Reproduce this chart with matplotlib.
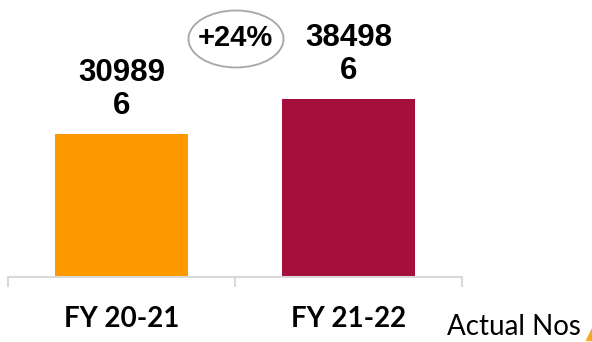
import matplotlib.pyplot as plt
from matplotlib.patches import Ellipse, Polygon

categories = ["FY 20-21", "FY 21-22"]
values = [309896, 384986]
colors = ["#ff9900", "#a50f3b"]
growth = "+24%"

fig = plt.figure(figsize=(5.92, 3.42), dpi=100)
ax = fig.add_axes([8 / 592, 1 - 277 / 342, 454 / 592, 277 / 342])

x = list(range(len(categories)))
ax.bar(x, values, width=0.59, color=colors)
ax.set_xlim(-0.5, 1.5)
ax.set_ylim(0, 600000)

for s in ["top", "left", "right"]:
    ax.spines[s].set_visible(False)
ax.spines["bottom"].set_color("#d9d9d9")
ax.spines["bottom"].set_linewidth(1.5)
ax.set_yticks([])
ax.set_xticks([])
ax.set_xticks([-0.5, 0.5, 1.5], minor=True)
ax.tick_params(axis="x", which="minor", length=7.5, width=1.5, color="#d9d9d9", labelbottom=False)

# labels above bars, wrapped like the original
for xi, v in zip(x, values):
    s = str(v)
    ax.annotate(s[:-1] + "\n" + s[-1], (xi, v), xytext=(0, 9.5), textcoords="offset points",
                ha="center", va="bottom", fontsize=22.5, fontweight="bold",
                family="Liberation Sans", linespacing=1.12)

for xi, c in zip(x, categories):
    ax.annotate(c, (xi, 0), xytext=(0, -21), textcoords="offset points",
                ha="center", va="top", fontsize=20, fontweight="bold", family="Lato")

# growth bubble
fig.patches.append(Ellipse((236 / 592, 1 - 39 / 342), 95 / 592, 57 / 342,
                           transform=fig.transFigure, fill=False, edgecolor="#a6a6a6", lw=1.3))
fig.text(235 / 592, 1 - 38 / 342, growth, ha="center", va="center", fontsize=21,
         fontweight="bold", family="Liberation Sans")

fig.text(447 / 592, 1 - 327 / 342, "Actual Nos", ha="left", va="center", fontsize=20, family="Lato")
fig.patches.append(Polygon([(586 / 592, 2 / 342), (592 / 592, 2 / 342), (592 / 592, 14 / 342)],
                           closed=True, transform=fig.transFigure, color="#f5a623"))

fig.savefig("out.png", dpi=100)
